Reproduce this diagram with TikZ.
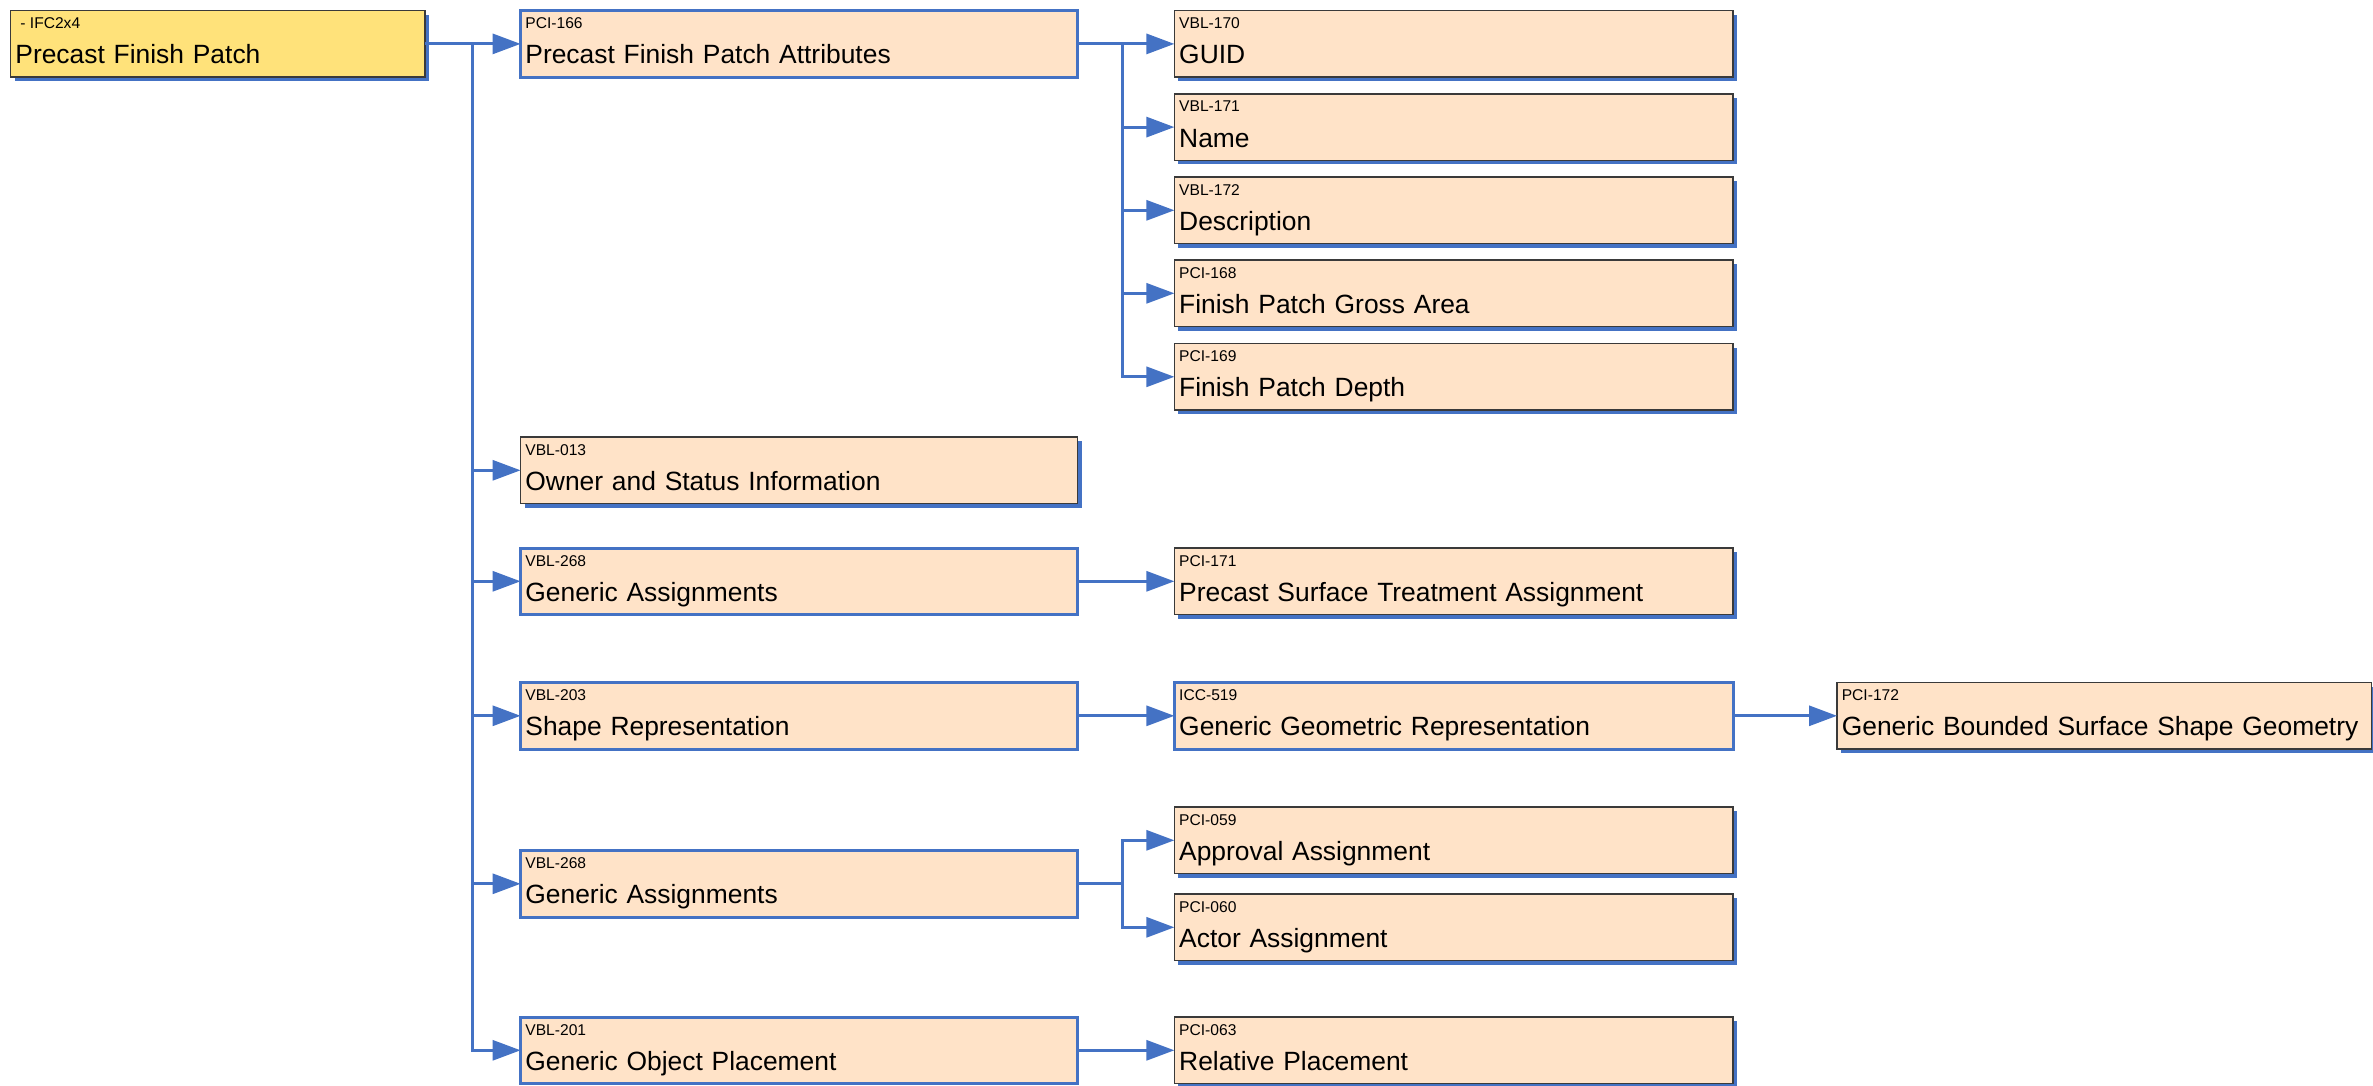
\documentclass[tikz,border=0pt]{standalone}
\usepackage{fontspec}
\setmainfont{Liberation Sans}
\usetikzlibrary{arrows.meta,shadows}

\definecolor{linkblue}{HTML}{4472C4}
\definecolor{peach}{HTML}{FFE3C8}
\definecolor{gold}{HTML}{FFE27A}
\definecolor{rim}{HTML}{3A3A3A}

\tikzstyle{box} = [rectangle, anchor=north west, fill=peach, minimum height=33.3pt, inner xsep=2.4pt, inner ysep=0pt, outer sep=0pt, text height=21pt, text depth=1pt, align=left, font=\fontsize{13.2}{15}\selectfont]
\tikzstyle{leaf} = [box, draw=rim, line width=0.8pt, drop shadow={shadow xshift=2pt, shadow yshift=-2pt, fill=linkblue, opacity=1}]
\tikzstyle{hub} = [box, draw=linkblue, line width=1.5pt]
\tikzstyle{rootbox} = [leaf, fill=gold]
\tikzstyle{code} = [anchor=north west, inner sep=0pt, xshift=2.2pt, yshift=-3.4pt, font=\fontsize{7.8}{9}\selectfont]
\tikzstyle{link} = [draw=linkblue, line width=1.5pt, -{Triangle[length=14pt, width=10pt]}]
\tikzstyle{colA} = [text width=202.4pt]
\tikzstyle{colB} = [text width=273.7pt]
\tikzstyle{colC} = [text width=274.5pt]
\tikzstyle{colD} = [text width=262.5pt]

\begin{document}
\begin{tikzpicture}[x=0.5pt, y=-0.5pt]
\useasboundingbox (0,0) rectangle (2373,1086);

% root
\node[rootbox, colA, label={[code]north west:\hspace{2.5pt}- IFC2x4}] (root) at (10.6,10.6) {Precast Finish Patch};

% second column
\node[hub, colB, label={[code]north west:PCI-166}] (pfpa) at (520.6,10.6) {Precast Finish Patch Attributes};
\node[leaf, colB, label={[code]north west:VBL-013}] (owner) at (520.6,437) {Owner and Status Information};
\node[hub, colB, label={[code]north west:VBL-268}] (assignA) at (520.6,548) {Generic Assignments};
\node[hub, colB, label={[code]north west:VBL-203}] (shaperep) at (520.6,682.5) {Shape Representation};
\node[hub, colB, label={[code]north west:VBL-268}] (assignB) at (520.6,850.5) {Generic Assignments};
\node[hub, colB, label={[code]north west:VBL-201}] (placement) at (520.6,1017) {Generic Object Placement};

% third column
\node[leaf, colC, label={[code]north west:VBL-170}] (guid) at (1174.4,10.6) {GUID};
\node[leaf, colC, label={[code]north west:VBL-171}] (name) at (1174.4,93.8) {Name};
\node[leaf, colC, label={[code]north west:VBL-172}] (descr) at (1174.4,177) {Description};
\node[leaf, colC, label={[code]north west:PCI-168}] (gross) at (1174.4,260) {Finish Patch Gross Area};
\node[leaf, colC, label={[code]north west:PCI-169}] (depth) at (1174.4,343.5) {Finish Patch Depth};
\node[leaf, colC, label={[code]north west:PCI-171}] (treat) at (1174.4,548) {Precast Surface Treatment Assignment};
\node[hub, colC, label={[code]north west:ICC-519}] (geomrep) at (1174.4,682.5) {Generic Geometric Representation};
\node[leaf, colC, label={[code]north west:PCI-059}] (approval) at (1174.4,807) {Approval Assignment};
\node[leaf, colC, label={[code]north west:PCI-060}] (actor) at (1174.4,894) {Actor Assignment};
\node[leaf, colC, label={[code]north west:PCI-063}] (relplace) at (1174.4,1017) {Relative Placement};

% fourth column
\node[leaf, colD, label={[code]north west:PCI-172}] (surface) at (1837,682.5) {Generic Bounded Surface Shape Geometry};

% connectors
\foreach \kid in {pfpa,owner,assignA,shaperep,assignB,placement}
  \draw[link] (root.east) -- ++(47,0) |- (\kid.west);
\foreach \kid in {guid,name,descr,gross,depth}
  \draw[link] (pfpa.east) -- ++(45,0) |- (\kid.west);
\foreach \kid in {approval,actor}
  \draw[link] (assignB.east) -- ++(45,0) |- (\kid.west);
\draw[link] (assignA.east) -- (treat.west);
\draw[link] (shaperep.east) -- (geomrep.west);
\draw[link] (geomrep.east) -- (surface.west);
\draw[link] (placement.east) -- (relplace.west);
\end{tikzpicture}
\end{document}
